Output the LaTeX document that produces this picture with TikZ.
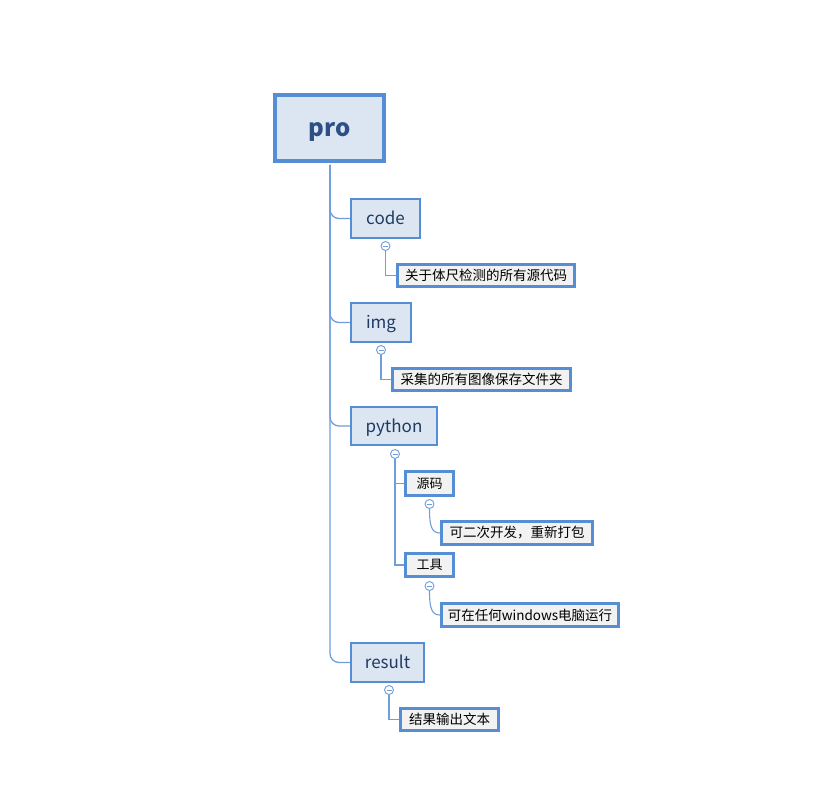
\documentclass[tikz,border=0pt]{standalone}
\usepackage{fontspec}
\setmainfont{Noto Sans CJK SC}
\usetikzlibrary{calc}
\definecolor{bord}{HTML}{558ED5}
\definecolor{lfill}{HTML}{DCE6F2}
\definecolor{gfill}{HTML}{F2F2F2}
\definecolor{conn}{HTML}{6F9EDB}
\definecolor{ttext}{HTML}{1F3A60}
\definecolor{rtext}{HTML}{2E4F85}
\tikzset{
  rootbox/.style={draw=bord, line width=4pt, fill=lfill, inner sep=0pt, text=rtext, text height=17pt, text depth=0pt, font=\fontsize{24}{28}\selectfont\bfseries},
  topicbox/.style={draw=bord, line width=2pt, fill=lfill, inner sep=0pt, text=ttext, text height=12.5pt, text depth=0pt, font=\fontsize{17}{20}\selectfont},
  subbox/.style={draw=bord, line width=3pt, fill=gfill, inner sep=0pt, text=black, font=\fontsize{13}{16}\selectfont},
  leafbox/.style={draw=bord, line width=3pt, fill=gfill, inner sep=0pt, text=black, font=\fontsize{13.5}{16}\selectfont},
  conline/.style={draw=conn, line width=1.3pt},
  circ/.style={circle, draw=conn, fill=white, line width=0.9pt, minimum size=9pt, inner sep=0pt,
    path picture={\draw[conn, line width=0.8pt] ([xshift=-2.5pt]path picture bounding box.center) -- ([xshift=2.5pt]path picture bounding box.center);}},
}
\begin{document}
\begin{tikzpicture}[x=1pt,y=-1pt]
\useasboundingbox (0,0) rectangle (829,786);
% nodes
\node[rootbox, minimum width=109pt, minimum height=66pt] (pro) at (329.5,128) {pro};
\node[topicbox, minimum width=69pt, minimum height=39pt] (code) at (385.5,218.5) {code};
\node[topicbox, minimum width=60pt, minimum height=39pt] (img) at (381,322.5) {img};
\node[topicbox, minimum width=86pt, minimum height=38pt] (python) at (394,426) {python};
\node[topicbox, minimum width=73pt, minimum height=39pt] (result) at (387.5,662.5) {result};
\node[subbox, minimum width=48pt, minimum height=24pt] (src) at (429.5,483.5) {源码};
\node[subbox, minimum width=48pt, minimum height=23pt] (tool) at (429.5,565) {工具};
\node[leafbox, minimum width=177pt, minimum height=22pt] (l1) at (486,275.5) {关于体尺检测的所有源代码};
\node[leafbox, minimum width=178pt, minimum height=22pt] (l2) at (481.5,379.5) {采集的所有图像保存文件夹};
\node[leafbox, minimum width=151pt, minimum height=23pt] (l3) at (517,533) {可二次开发，重新打包};
\node[leafbox, minimum width=177pt, minimum height=23pt] (l4) at (530,615) {可在任何windows电脑运行};
\node[leafbox, minimum width=98pt, minimum height=22pt] (l5) at (449.5,719.5) {结果输出文本};
% trunk
\coordinate (tr) at (330,165);
\draw[conline, rounded corners=9pt] (tr) |- (result.west);
\draw[conline, rounded corners=9pt] (tr) |- (code.west);
\draw[conline, rounded corners=9pt] (tr) |- (img.west);
\draw[conline, rounded corners=9pt] (tr) |- (python.west);
% collapse circles
\node[circ] (c1) at ([yshift=-7pt]code.south) {};
\node[circ] (c2) at ([yshift=-7pt]img.south) {};
\node[circ] (c3) at ([yshift=-8pt,xshift=1pt]python.south) {};
\node[circ] (c4) at ([yshift=-7pt]src.south) {};
\node[circ] (c5) at ([yshift=-8pt]tool.south) {};
\node[circ] (c6) at ([yshift=-7pt,xshift=1.5pt]result.south) {};
% sub connectors
\draw[conline, line width=1.1pt] (c1.south) |- (l1.west);
\draw[conline, line width=1.1pt] (c2.south) |- (l2.west);
\draw[conline, line width=1.1pt] (c3.south) |- (src.west);
\draw[conline, line width=1.1pt] (c3.south) |- (tool.west);
\draw[conline, line width=1.1pt] (c6.south) |- (l5.west);
\draw[conline, line width=1.1pt] (c4.south) .. controls ($(c4.south)+(0,18)$) and ($(l3.west)+(-8,0)$) .. (l3.west);
\draw[conline, line width=1.1pt] (c5.south) .. controls ($(c5.south)+(0,18)$) and ($(l4.west)+(-8,0)$) .. (l4.west);
\end{tikzpicture}
\end{document}
